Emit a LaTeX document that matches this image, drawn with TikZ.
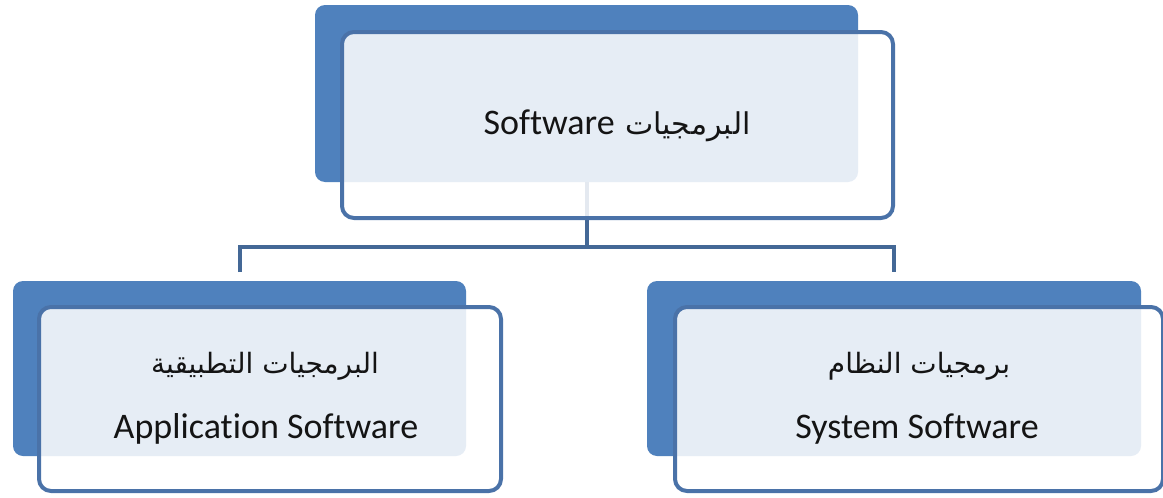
\documentclass[tikz,border=0pt]{standalone}
\usepackage{fontspec}
\setmainfont{Carlito}[Ligatures={NoCommon}]
\newfontfamily\arabicfont[Script=Arabic]{DejaVu Sans}
\TeXXeTstate=1
\definecolor{backblue}{RGB}{79,129,189}
\definecolor{frameblue}{RGB}{74,114,168}
\definecolor{linkblue}{RGB}{68,104,150}
\definecolor{txt}{RGB}{20,20,20}
\begin{document}
\begin{tikzpicture}[x=1pt,y=-1pt,
  backbox/.style={draw=none,fill=backblue,rounded corners=10pt,inner sep=0pt,rectangle},
  frontbox/.style={draw=frameblue,line width=4pt,fill=white,fill opacity=0.86,draw opacity=1,rounded corners=12pt,inner sep=0pt,rectangle},
  link/.style={draw=linkblue,line width=4pt},
  eng/.style={font=\fontsize{36}{40}\selectfont,text=txt,inner sep=0pt,anchor=base},
  arb/.style={font=\arabicfont\fontsize{28}{34}\selectfont,text=txt,inner sep=0pt,anchor=base}]
\useasboundingbox (0,0) rectangle (1163,498);
\fill[white] (0,0) rectangle (1163,498);
% back boxes
\node[backbox,minimum width=543pt,minimum height=177pt] (tb) at (586.5,93.5) {};
\node[backbox,minimum width=453pt,minimum height=175pt] (lb) at (239.5,368.5) {};
\node[backbox,minimum width=494pt,minimum height=175pt] (rb) at (894,368.5) {};
% connector end points
\coordinate (hub) at (586.5,247);
\coordinate (lend) at (239.5,272);
\coordinate (rend) at (894,272);
\draw[link] (tb.south) -- (hub);
\draw[link] (lend) |- (hub) -| (rend);
% front boxes
\node[frontbox,minimum width=551pt,minimum height=186pt] (tf) at (617.5,125) {};
\node[frontbox,minimum width=462pt,minimum height=184pt] (lf) at (270,399) {};
\node[frontbox,minimum width=488pt,minimum height=184pt] (rf) at (919,399) {};
% texts
\node[eng] (t1) at (617,134) {Software\hspace{0.3em}{\arabicfont\fontsize{30}{34}\selectfont\beginR البرمجيات\endR}};
\node[arb] (l1) at (265,373) {\beginR البرمجيات التطبيقية\endR};
\node[eng] (l2) at (266,438) {Application Software};
\node[arb] (r1) at (919,373) {\beginR برمجيات النظام\endR};
\node[eng] (r2) at (917,438) {System Software};
\end{tikzpicture}
\end{document}
